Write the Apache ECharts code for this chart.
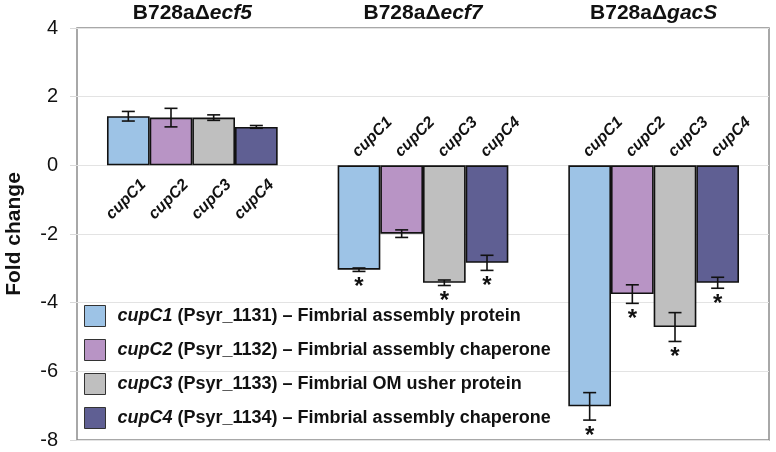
<!DOCTYPE html>
<html>
<head>
<meta charset="utf-8">
<script src="https://cdn.jsdelivr.net/npm/echarts@6/dist/echarts.min.js"></script>
<style>
html,body{margin:0;padding:0;background:#fff;}
#chart{width:776px;height:452px;}
</style>
</head>
<body>
<div id="chart"></div>
<script>
// ---- data ----
var titlePrefix = 'B728aΔ';
var strains = ['ecf5', 'ecf7', 'gacS'];
var genes = ['cupC1', 'cupC2', 'cupC3', 'cupC4'];
var loci = ['Psyr_1131', 'Psyr_1132', 'Psyr_1133', 'Psyr_1134'];
var descriptions = ['Fimbrial assembly protein', 'Fimbrial assembly chaperone', 'Fimbrial OM usher protein', 'Fimbrial assembly chaperone'];
var yTicks = [-8, -6, -4, -2, 0, 2, 4];

var cupC1 = [1.43, -3.04, -7.02];
var cupC2 = [1.39, -1.99, -3.75];
var cupC3 = [1.39, -3.42, -4.71];
var cupC4 = [1.12, -2.84, -3.42];

var cupC1Err = [0.14, 0.05, 0.40];
var cupC2Err = [0.27, 0.11, 0.27];
var cupC3Err = [0.08, 0.08, 0.42];
var cupC4Err = [0.04, 0.22, 0.16];

var cupC1Sig = [0, 1, 1];
var cupC2Sig = [0, 0, 1];
var cupC3Sig = [0, 1, 1];
var cupC4Sig = [0, 1, 1];

var colors = ['#9DC3E6', '#B894C5', '#BFBFBF', '#5F5F93'];

// ---- build ----
var values = [cupC1, cupC2, cupC3, cupC4];
var errs = [cupC1Err, cupC2Err, cupC3Err, cupC4Err];
var sigs = [cupC1Sig, cupC2Sig, cupC3Sig, cupC4Sig];
var catGap = 0.26;

var FONT = '"Liberation Sans", Arial, sans-serif';

var series = [];
genes.forEach(function (g, gi) {
  series.push({
    name: g,
    type: 'bar',
    data: values[gi],
    barGap: '0%',
    barCategoryGap: (catGap * 100) + '%',
    itemStyle: { color: colors[gi], borderColor: '#111', borderWidth: 1.6 },
    z: 2
  });
});

var extraData = [];
genes.forEach(function (g, gi) {
  strains.forEach(function (s, ci) {
    extraData.push([ci, values[gi][ci], errs[gi][ci], sigs[gi][ci], gi]);
  });
});

series.push({
  type: 'custom',
  name: 'extras',
  z: 5,
  silent: true,
  data: extraData,
  encode: { x: 0, y: 1 },
  renderItem: function (params, api) {
    var ci = api.value(0), v = api.value(1), e = api.value(2), sig = api.value(3), gi = api.value(4);
    var center = api.coord([ci, 0]);
    var band = api.size([1, 0])[0];
    var barW = band * (1 - catGap) / 4;
    var bx = center[0] + (gi - 1.5) * barW;
    var y0 = center[1];
    var yHi = api.coord([ci, v + e])[1];
    var yLo = api.coord([ci, v - e])[1];
    var cap = 6.5;
    var ls = { stroke: '#111', lineWidth: 1.6 };
    var children = [
      { type: 'line', shape: { x1: bx, y1: yHi, x2: bx, y2: yLo }, style: ls },
      { type: 'line', shape: { x1: bx - cap, y1: yHi, x2: bx + cap, y2: yHi }, style: ls },
      { type: 'line', shape: { x1: bx - cap, y1: yLo, x2: bx + cap, y2: yLo }, style: ls }
    ];
    if (sig) {
      children.push({
        type: 'text', x: bx, y: yLo + 16,
        style: { text: '*', font: 'bold 24px ' + FONT, fill: '#111', textAlign: 'center', textVerticalAlign: 'middle' }
      });
    }
    if (v >= 0) {
      children.push({
        type: 'text', x: bx + 15, y: y0 + 17, rotation: Math.PI / 4,
        style: { text: genes[gi], font: 'italic bold 16px ' + FONT, fill: '#111', textAlign: 'right', textVerticalAlign: 'middle' }
      });
    } else {
      children.push({
        type: 'text', x: bx - 4, y: y0 - 11, rotation: Math.PI / 4,
        style: { text: genes[gi], font: 'italic bold 16px ' + FONT, fill: '#111', textAlign: 'left', textVerticalAlign: 'middle' }
      });
    }
    return { type: 'group', children: children };
  }
});

var option = {
  animation: false,
  backgroundColor: '#fff',
  textStyle: { fontFamily: FONT },
  grid: {
    left: 77, right: 7, top: 28, bottom: 12,
    containLabel: false,
    outerBoundsMode: 'none',
    show: true, borderColor: '#8c8c8c', borderWidth: 1.5, backgroundColor: 'transparent'
  },
  legend: {
    data: genes,
    orient: 'vertical',
    left: 84, top: 305,
    padding: 0,
    itemWidth: 21, itemHeight: 21, itemGap: 12,
    icon: 'rect',
    itemStyle: { borderColor: '#333', borderWidth: 1 },
    formatter: function (name) {
      var i = genes.indexOf(name);
      return '{i|' + name + '}{n| (' + loci[i] + ') – ' + descriptions[i] + '}';
    },
    textStyle: {
      rich: {
        i: { fontFamily: FONT, fontWeight: 'bold', fontStyle: 'italic', fontSize: 18, color: '#111', padding: [0, 0, 0, 7] },
        n: { fontFamily: FONT, fontWeight: 'bold', fontSize: 18, color: '#111' }
      }
    }
  },
  xAxis: {
    type: 'category',
    position: 'top',
    data: strains,
    axisLine: { show: false },
    axisTick: { show: false },
    axisLabel: {
      margin: 4,
      formatter: function (s) { return '{b|' + titlePrefix + '}{bi|' + s + '}'; },
      rich: {
        b: { fontFamily: FONT, fontWeight: 'bold', fontSize: 21, color: '#111' },
        bi: { fontFamily: FONT, fontWeight: 'bold', fontStyle: 'italic', fontSize: 21, color: '#111' }
      }
    }
  },
  yAxis: {
    type: 'value',
    min: yTicks[0], max: yTicks[yTicks.length - 1], interval: 2,
    name: 'Fold change',
    nameLocation: 'middle',
    nameGap: 52,
    nameMoveOverlap: false,
    nameTextStyle: { fontFamily: FONT, fontWeight: 'bold', fontSize: 21, color: '#111' },
    axisLine: { show: false },
    axisTick: { show: true, length: 7, lineStyle: { color: '#d9d9d9' } },
    axisLabel: { fontFamily: FONT, fontSize: 20, color: '#111', margin: 19 },
    splitLine: { lineStyle: { color: '#e3e3e3', width: 1 } }
  },
  series: series
};

var chart = echarts.init(document.getElementById('chart'), null, { renderer: 'canvas' });
chart.setOption(option);
</script>
</body>
</html>
